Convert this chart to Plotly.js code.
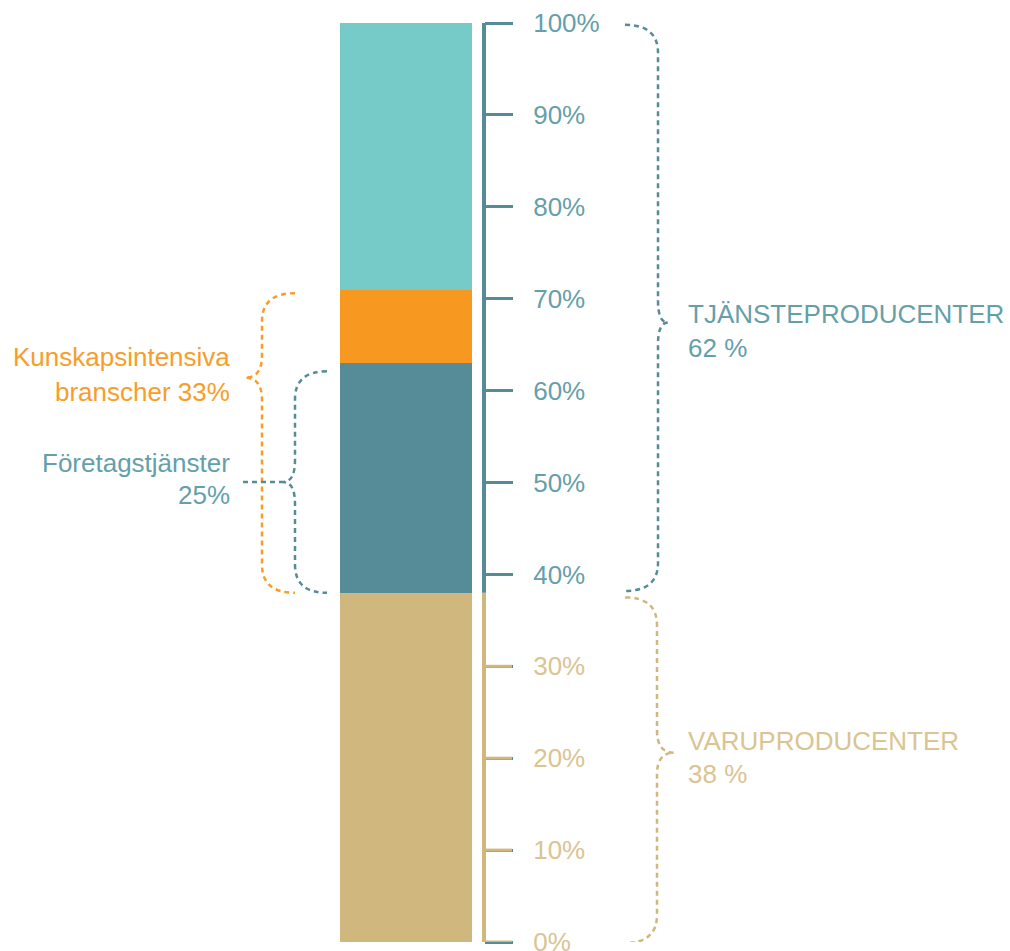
<!DOCTYPE html>
<html><head><meta charset="utf-8">
<script src="https://cdn.plot.ly/plotly-3.0.1.min.js"></script>
<style>html,body{margin:0;padding:0;background:#fff}#chart{width:1010px;height:951px}</style>
</head><body><div id="chart"></div>
<script>
// ---- data ----
const category = ["Andel"];
const segmentNames = ["Varuproducenter", "Företagstjänster", "Övriga kunskapsintensiva", "Övriga tjänsteproducenter"];
const segmentValues = [38, 25, 8, 29];
const segmentColors = ["#D0B77E", "#558C98", "#F79820", "#76CAC7"];
const tickValues = [0, 10, 20, 30, 40, 50, 60, 70, 80, 90, 100];
const tickLabels = ["0%", "10%", "20%", "30%", "40%", "50%", "60%", "70%", "80%", "90%", "100%"];
const groupLabels = ["TJÄNSTEPRODUCENTER", "62 %", "VARUPRODUCENTER", "38 %"];
const leftLabels = ["Kunskapsintensiva", "branscher 33%", "Företagstjänster", "25%"];

const TEAL = "#558C98", TEALTXT = "#659FAA", TAN = "#D0B77E", TANTXT = "#DAC491", ORANGE = "#F89D2A";
const W = 1010;
const px = x => x / W;
const split = segmentValues[0];

const traces = segmentValues.map((v, i) => ({
  type: "bar", x: [0], y: [v], name: segmentNames[i],
  marker: {color: segmentColors[i], line: {width: 0}},
  width: 1, hoverinfo: "skip", showlegend: false
}));

const tickText = tickValues.map((v, i) =>
  `<span style="color:${v < split ? TANTXT : TEALTXT}">${tickLabels[i]}</span>`);

// brace path: xs = end x (px), xv = vertical x (px), xt = tip x (px); y in data %
function brace(xs, xv, xt, top, tip, bot) {
  const k = 9.19;
  const r1 = 28 / k, r2 = 22 / k;
  const P = (x, y) => `${px(x)},${y}`;
  return `M${P(xs, top)} Q${P(xv, top)} ${P(xv, top - r1)} L${P(xv, tip + r2)} Q${P(xv, tip)} ${P(xt, tip)} Q${P(xv, tip)} ${P(xv, tip - r2)} L${P(xv, bot + r1)} Q${P(xv, bot)} ${P(xs, bot)}`;
}

const dash = "5px,4px";
const shapes = [
  {type: "line", xref: "paper", yref: "y", x0: px(484), x1: px(484), y0: 0, y1: split, line: {color: TAN, width: 4}},
  {type: "line", xref: "paper", yref: "y", x0: px(484), x1: px(484), y0: split, y1: 100, line: {color: TEAL, width: 4}},
  {type: "path", xref: "paper", yref: "y", path: brace(625, 658, 668, 99.8, 67.4, split + 0.2), line: {color: TEAL, width: 2.5, dash: dash}},
  {type: "path", xref: "paper", yref: "y", path: brace(625, 657, 674, split - 0.5, 20.6, -0.1), line: {color: TAN, width: 2.5, dash: dash}},
  {type: "path", xref: "paper", yref: "y", path: brace(295, 262, 245, 70.6, 61.4, 38.0), line: {color: ORANGE, width: 2.5, dash: dash}},
  {type: "path", xref: "paper", yref: "y", path: brace(327, 295, 283, 62.1, 50.05, 38.0), line: {color: TEAL, width: 2.5, dash: dash}},
  {type: "line", xref: "paper", yref: "y", x0: px(243), x1: px(283), y0: 50.05, y1: 50.05, line: {color: TEAL, width: 2.5, dash: dash}}
];
tickValues.filter(v => v < split).forEach(v => shapes.push(
  {type: "line", xref: "paper", yref: "y", x0: px(484), x1: px(512), y0: v, y1: v, line: {color: TAN, width: 3}}));

const FONT = "'Liberation Sans', Arial, sans-serif";
const FS = 26;
const ann = (text, x, y, anchor, color) => ({
  text, xref: "paper", yref: "y", x: px(x), y, xanchor: anchor, yanchor: "middle",
  showarrow: false, font: {family: FONT, size: FS, color}
});
const annotations = [
  ann(groupLabels[0], 686, 68.3, "left", TEALTXT),
  ann(groupLabels[1], 686, 64.6, "left", TEALTXT),
  ann(groupLabels[2], 686, 21.9, "left", TANTXT),
  ann(groupLabels[3], 686, 18.3, "left", TANTXT),
  ann(leftLabels[0], 232, 63.7, "right", ORANGE),
  ann(leftLabels[1], 232, 59.8, "right", ORANGE),
  ann(leftLabels[2], 232, 52.1, "right", TEALTXT),
  ann(leftLabels[3], 232, 48.6, "right", TEALTXT)
];

const layout = {
  width: 1010, height: 951,
  margin: {l: 0, r: 0, t: 23, b: 9, pad: 0},
  paper_bgcolor: "#fff", plot_bgcolor: "#fff",
  barmode: "stack", bargap: 0,
  xaxis: {range: [-406 / 132, (W - 406) / 132], visible: false, fixedrange: true},
  yaxis: {
    range: [0, 100], side: "right", anchor: "free", position: px(484),
    tickvals: tickValues, ticktext: tickText, ticks: "outside", ticklen: 28, tickwidth: 3,
    tickcolor: TEAL, showgrid: false, zeroline: false, showline: false,
    ticklabelstandoff: 15, ticklabeloverflow: "allow",
    tickfont: {family: FONT, size: FS, color: TEALTXT}
  },
  shapes, annotations, showlegend: false
};
Plotly.newPlot("chart", traces, layout, {staticPlot: true, displayModeBar: false});
</script></body></html>
